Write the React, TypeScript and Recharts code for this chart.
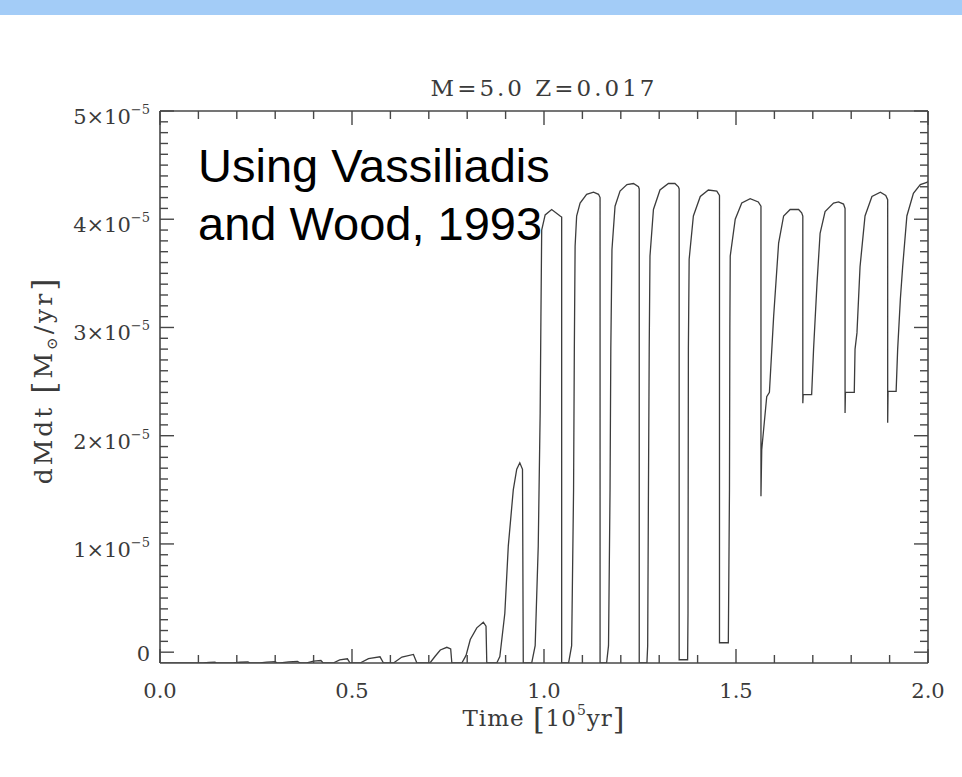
import React from 'react';
import { LineChart, Line, XAxis, YAxis } from 'recharts';

document.body.style.margin = '0';

// time in 10^5 yr, dM/dt in units of 1e-5 Msun/yr
const time = [
  0, 0.112, 0.128, 0.143, 0.148, 0.19, 0.208, 0.229, 0.235, 0.26, 0.278, 0.3, 0.305,
  0.313, 0.335, 0.358, 0.365, 0.382, 0.4, 0.419, 0.425, 0.451, 0.468, 0.488, 0.495,
  0.521, 0.543, 0.573, 0.582, 0.608, 0.63, 0.66, 0.669, 0.703, 0.716, 0.73, 0.747,
  0.757, 0.76, 0.786, 0.797, 0.808, 0.825, 0.842, 0.849, 0.851, 0.877, 0.885, 0.898,
  0.907, 0.92, 0.929, 0.937, 0.944, 0.946, 0.968, 0.977, 0.985, 0.99, 0.992, 0.994,
  1.003, 1.02, 1.042, 1.046, 1.046, 1.064, 1.072, 1.077, 1.079, 1.081, 1.085, 1.094,
  1.111, 1.129, 1.142, 1.146, 1.146, 1.163, 1.168, 1.172, 1.174, 1.177, 1.185, 1.198,
  1.216, 1.233, 1.246, 1.248, 1.248, 1.268, 1.27, 1.272, 1.274, 1.276, 1.285, 1.302,
  1.324, 1.341, 1.35, 1.352, 1.352, 1.374, 1.375, 1.376, 1.378, 1.389, 1.407, 1.428,
  1.45, 1.457, 1.457, 1.48, 1.483, 1.484, 1.485, 1.498, 1.515, 1.537, 1.558, 1.565,
  1.565, 1.567, 1.58, 1.587, 1.598, 1.611, 1.624, 1.641, 1.663, 1.671, 1.674, 1.674,
  1.675, 1.697, 1.702, 1.711, 1.719, 1.732, 1.754, 1.767, 1.78, 1.784, 1.784, 1.785,
  1.808, 1.81, 1.815, 1.823, 1.836, 1.854, 1.876, 1.89, 1.895, 1.895, 1.896, 1.917,
  1.921, 1.928, 1.934, 1.945, 1.962, 1.98, 1.997, 2.0,
];

const dmdt = [
  -0.1, -0.1, -0.094, -0.092, -0.1, -0.1, -0.093, -0.091, -0.1, -0.1, -0.091, -0.088, -0.1,
  -0.1, -0.089, -0.086, -0.1, -0.1, -0.083, -0.077, -0.1, -0.1, -0.072, -0.061, -0.1,
  -0.1, -0.06, -0.043, -0.1, -0.1, -0.045, -0.021, -0.1, -0.1, -0.04, 0.02, 0.045,
  0.03, -0.1, -0.1, -0.03, 0.117, 0.225, 0.277, 0.24, -0.1, -0.1, -0.04, 0.36,
  0.98, 1.5, 1.69, 1.75, 1.69, -0.1, -0.1, 0.06, 0.98, 2.21, 3.1, 3.9,
  4.04, 4.09, 4.03, 4.02, -0.1, -0.1, 0.06, 1.5, 2.8, 3.75, 4.03, 4.15,
  4.23, 4.25, 4.23, 4.2, -0.1, -0.1, 0.06, 1.5, 2.8, 3.72, 4.12, 4.26,
  4.32, 4.33, 4.3, 4.28, -0.1, -0.1, 0.06, 1.5, 2.8, 3.66, 4.09, 4.27,
  4.33, 4.33, 4.3, 4.28, -0.07, -0.07, 0.36, 2.8, 3.63, 4.03, 4.21, 4.27,
  4.26, 4.22, 0.087, 0.087, 1.5, 3.0, 3.66, 4.0, 4.15, 4.19, 4.16, 4.12,
  1.44, 1.87, 2.36, 2.4, 3.1, 3.78, 4.03, 4.09, 4.09, 4.06, 4.03, 2.3,
  2.38, 2.38, 2.8, 3.41, 3.87, 4.07, 4.15, 4.16, 4.14, 4.1, 2.21, 2.4,
  2.4, 2.8, 2.95, 3.56, 4.03, 4.21, 4.25, 4.22, 4.18, 2.12, 2.41, 2.41,
  2.8, 3.26, 3.56, 4.03, 4.24, 4.32, 4.34, 4.35,
];

const xMajor = [0, 0.5, 1.0, 1.5, 2.0];
const xLabels = ['0.0', '0.5', '1.0', '1.5', '2.0'];
const yMajor = [0, 1, 2, 3, 4, 5];
const yLabels = ['0', '1', '2', '3', '4', '5'];

const xTicks = Array.from({ length: 21 }, (_, i) => i / 10);
const yTicks = Array.from({ length: 51 }, (_, i) => i / 10);

const data = time.map((t, i) => ({ t, v: dmdt[i] }));

const AXIS = '#474747';
const TEXT = '#3a3a3a';
const SERIF = '"DejaVu Serif", serif';
const MAJOR = 14;
const MINOR = 8;

const isMajor = (list: number[], v: number) => list.some((m) => Math.abs(m - v) < 1e-6);

const BottomTick = ({ x, y, payload }: any) => {
  const v = payload.value;
  const major = isMajor(xMajor, v);
  const idx = xMajor.findIndex((m) => Math.abs(m - v) < 1e-6);
  return (
    <g>
      <line x1={x} y1={y} x2={x} y2={y - (major ? MAJOR : MINOR)} stroke={AXIS} strokeWidth={1.4} />
      {major && (
        <text x={x} y={y + 35} textAnchor="middle" fontFamily={SERIF} fontSize={21} fill={TEXT}>
          {xLabels[idx]}
        </text>
      )}
    </g>
  );
};

const TopTick = ({ x, y, payload }: any) => {
  const major = isMajor(xMajor, payload.value);
  return <line x1={x} y1={y} x2={x} y2={y + (major ? MAJOR : MINOR)} stroke={AXIS} strokeWidth={1.4} />;
};

const LeftTick = ({ x, y, payload }: any) => {
  const v = payload.value;
  const major = isMajor(yMajor, v);
  const idx = yMajor.findIndex((m) => Math.abs(m - v) < 1e-6);
  return (
    <g>
      <line x1={x} y1={y} x2={x + (major ? MAJOR : MINOR)} y2={y} stroke={AXIS} strokeWidth={1.4} />
      {major && idx === 0 && (
        <text x={x - 10} y={y + 9} textAnchor="end" fontFamily={SERIF} fontSize={21} fill={TEXT}>
          0
        </text>
      )}
      {major && idx > 0 && (
        <text x={x - 10} y={y + 13} textAnchor="end" fontFamily={SERIF} fontSize={21} fill={TEXT}>
          {yLabels[idx]}×10
          <tspan dy={-10} fontSize={13}>−5</tspan>
        </text>
      )}
    </g>
  );
};

const RightTick = ({ x, y, payload }: any) => {
  const major = isMajor(yMajor, payload.value);
  return <line x1={x} y1={y} x2={x - (major ? MAJOR : MINOR)} y2={y} stroke={AXIS} strokeWidth={1.4} />;
};

export default function App() {
  return (
    <div style={{ position: 'relative', width: 962, height: 777, background: '#fff' }}>
      <div style={{ position: 'absolute', left: 0, top: 0, width: 962, height: 15, background: '#a3ccf7' }} />
      <div style={{ position: 'absolute', left: 0, top: 0 }}>
        <LineChart width={962} height={777} data={data} margin={{ top: 110, right: 33, bottom: 84, left: 100 }}>
          <XAxis
            xAxisId="bottom"
            dataKey="t"
            type="number"
            domain={[0, 2]}
            ticks={xTicks}
            interval={0}
            tick={<BottomTick />}
            tickLine={false}
            tickSize={0}
            tickMargin={0}
            height={30}
            axisLine={{ stroke: AXIS, strokeWidth: 1.6 }}
            allowDataOverflow
          />
          <XAxis
            xAxisId="top"
            orientation="top"
            dataKey="t"
            type="number"
            domain={[0, 2]}
            ticks={xTicks}
            interval={0}
            tick={<TopTick />}
            tickLine={false}
            tickSize={0}
            tickMargin={0}
            height={1}
            axisLine={{ stroke: AXIS, strokeWidth: 1.6 }}
            allowDataOverflow
          />
          <YAxis
            yAxisId="left"
            type="number"
            domain={[-0.1, 5]}
            ticks={yTicks}
            interval={0}
            tick={<LeftTick />}
            tickLine={false}
            tickSize={0}
            tickMargin={0}
            width={60}
            axisLine={{ stroke: AXIS, strokeWidth: 1.6 }}
            allowDataOverflow
          />
          <YAxis
            yAxisId="right"
            orientation="right"
            type="number"
            domain={[-0.1, 5]}
            ticks={yTicks}
            interval={0}
            tick={<RightTick />}
            tickLine={false}
            tickSize={0}
            tickMargin={0}
            width={1}
            axisLine={{ stroke: AXIS, strokeWidth: 1.6 }}
            allowDataOverflow
          />
          <Line
            xAxisId="bottom"
            yAxisId="left"
            type="linear"
            dataKey="v"
            stroke="#3c3c3c"
            strokeWidth={1.3}
            dot={false}
            isAnimationActive={false}
          />
          <text x={544} y={96} textAnchor="middle" fontFamily={SERIF} fontSize={23} letterSpacing={3} fill={TEXT}>
            M=5.0 Z=0.017
          </text>
          <text x={544} y={726} textAnchor="middle" fontFamily={SERIF} fontSize={23} letterSpacing={1} fill={TEXT}>
            Time <tspan fontSize={30} dy={3}>[</tspan>
            <tspan dy={-3}>10</tspan>
            <tspan dy={-11} fontSize={14}>5</tspan>
            <tspan dy={11}>yr</tspan>
            <tspan fontSize={30} dy={3}>]</tspan>
          </text>
          <text
            x={52}
            y={380}
            transform="rotate(-90 52 380)"
            textAnchor="middle"
            fontFamily={SERIF}
            fontSize={25}
            letterSpacing={3}
            fill={TEXT}
          >
            dMdt <tspan fontSize={31} dy={3}>[</tspan>
            <tspan dy={-3}>M</tspan>
            <tspan dy={5} fontSize={15}>⊙</tspan>
            <tspan dy={-5}>/yr</tspan>
            <tspan fontSize={31} dy={3}>]</tspan>
          </text>
          <text fontFamily='"Liberation Sans", Arial, sans-serif' fontSize={47} fill="#000">
            <tspan x={198} y={182}>Using Vassiliadis</tspan>
            <tspan x={198} y={240}>and Wood, 1993</tspan>
          </text>
        </LineChart>
      </div>
    </div>
  );
}
